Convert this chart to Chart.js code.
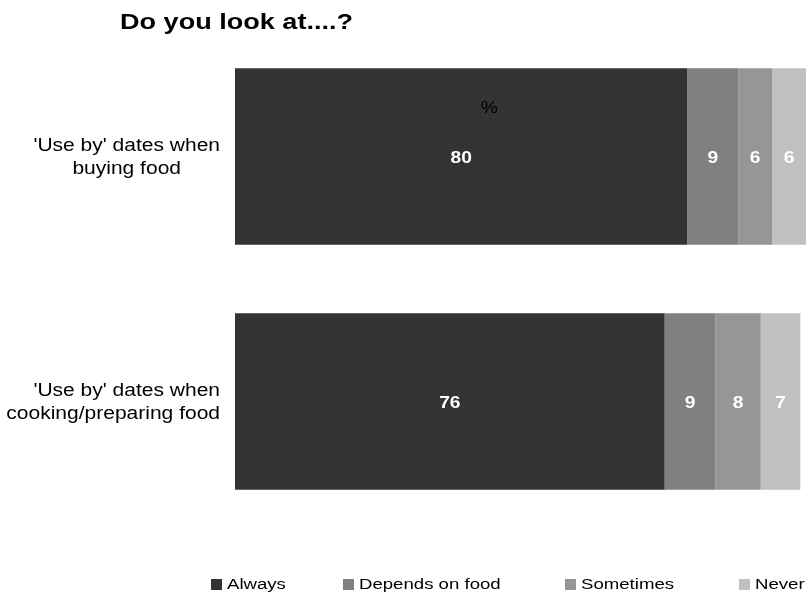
<!DOCTYPE html>
<html>
<head>
<meta charset="utf-8">
<script src="https://cdn.jsdelivr.net/npm/chart.js@4/dist/chart.umd.min.js"></script>
<style>
html,body{margin:0;padding:0;background:#fff;}
#wrap{position:absolute;left:0;top:0;width:806px;height:596px;}
</style>
</head>
<body>
<div id="wrap"><canvas id="c" width="806" height="596"></canvas></div>
<script>
const chartTitle = "Do you look at....?";
const categories = [["'Use by' dates when", "buying food"], ["'Use by' dates when", "cooking/preparing food"]];
const seriesNames = ["Always", "Depends on food", "Sometimes", "Never"];
const always = [80, 76];
const dependsOnFood = [9, 9];
const sometimes = [6, 8];
const never = [6, 7];
const unitLabel = "%";

const colors = ["#333333", "#808080", "#969696", "#c0c0c0"];
const seriesValues = [always, dependsOnFood, sometimes, never];
const FONT = "'Liberation Sans', Arial, sans-serif";
const STRETCH = 1.2;

const legendX = [211, 343, 565, 739];

function wideText(ctx, text, x, y, align, sx) {
  ctx.save();
  ctx.translate(x, y);
  ctx.scale(sx, 1);
  ctx.textAlign = align;
  ctx.fillText(text, 0, 0);
  ctx.restore();
}

const overlay = {
  id: 'overlay',
  afterDatasetsDraw(chart) {
    const ctx = chart.ctx;
    ctx.save();
    ctx.textBaseline = 'middle';
    // data labels
    chart.data.datasets.forEach((ds, di) => {
      const meta = chart.getDatasetMeta(di);
      meta.data.forEach((bar, i) => {
        const x = (bar.base + bar.x) / 2;
        ctx.fillStyle = '#ffffff';
        ctx.font = "bold 16px " + FONT;
        wideText(ctx, String(ds.data[i]), x, bar.y + 2, 'center', STRETCH);
      });
    });
    // unit label
    const xs = chart.scales.x, ys = chart.scales.y;
    ctx.fillStyle = '#000';
    ctx.font = "16px " + FONT;
    wideText(ctx, unitLabel, xs.getPixelForValue(45), ys.getPixelForValue(0) - 48, 'center', STRETCH);
    // category labels from the y scale
    ctx.font = "17.5px " + FONT;
    ctx.fillStyle = '#000';
    const right = ys.right - 15;
    ys.ticks.forEach((t, i) => {
      const lines = chart.data.labels[i];
      const yc = ys.getPixelForTick(i) + 1.5;
      const lh = 23;
      const w0 = ctx.measureText(lines[0]).width * STRETCH;
      const cx = right - w0 / 2;
      lines.forEach((ln, k) => {
        const y = yc + (k - (lines.length - 1) / 2) * lh;
        const w = ctx.measureText(ln).width * STRETCH;
        const x = Math.min(cx, right - w / 2);
        wideText(ctx, ln, x, y, 'center', STRETCH);
      });
    });
    ctx.restore();
  },
  afterDraw(chart) {
    const ctx = chart.ctx;
    ctx.save();
    ctx.fillStyle = '#000';
    ctx.textBaseline = 'middle';
    ctx.font = "bold 22px " + FONT;
    wideText(ctx, chartTitle, 120, 23, 'left', 1.23);
    ctx.font = "15.5px " + FONT;
    seriesNames.forEach((name, i) => {
      const x = legendX[i];
      ctx.fillStyle = colors[i];
      ctx.fillRect(x, 579, 11, 11);
      ctx.fillStyle = '#000';
      wideText(ctx, name, x + 16, 585, 'left', STRETCH);
    });
    ctx.restore();
  }
};

new Chart(document.getElementById('c'), {
  type: 'bar',
  data: {
    labels: categories,
    datasets: seriesNames.map((n, i) => ({
      label: n,
      data: seriesValues[i],
      backgroundColor: colors[i],
      borderWidth: 0,
      categoryPercentage: 0.72,
      barPercentage: 1.0
    }))
  },
  options: {
    indexAxis: 'y',
    responsive: false,
    animation: false,
    layout: { padding: { top: 34, bottom: 72, left: 0, right: 0 } },
    plugins: { legend: { display: false }, title: { display: false }, tooltip: { enabled: false } },
    scales: {
      x: { stacked: true, min: 0, max: 101, display: false },
      y: {
        stacked: true,
        grid: { display: false, drawTicks: false },
        border: { display: false },
        ticks: { display: false },
        afterFit(s) { s.width = 235; }
      }
    }
  },
  plugins: [overlay]
});
</script>
</body>
</html>
